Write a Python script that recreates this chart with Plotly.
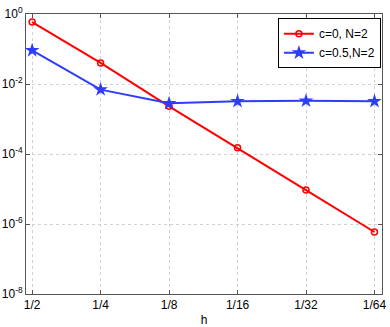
import plotly.graph_objects as go

h_labels = ["1/2", "1/4", "1/8", "1/16", "1/32", "1/64"]
err_c0 = [0.59, 0.040, 0.0023, 1.5e-4, 9.3e-6, 5.9e-7]
err_c05 = [0.091, 0.0069, 0.0028, 0.0032, 0.0033, 0.0032]
y_tickvals = [1, 1e-2, 1e-4, 1e-6, 1e-8]
y_ticktext = ["10<sup>0</sup>", "10<sup>-2</sup>", "10<sup>-4</sup>", "10<sup>-6</sup>", "10<sup>-8</sup>"]

x = list(range(len(h_labels)))
FONT = "Liberation Sans, Arial, Helvetica"

fig = go.Figure()
fig.add_trace(go.Scatter(x=x, y=err_c0, mode="lines+markers", name="c=0, N=2",
                         line=dict(color="#ff0000", width=2),
                         marker=dict(symbol="circle-open", size=6, color="#ff0000", line=dict(width=1.5))))
fig.add_trace(go.Scatter(x=x, y=err_c05, mode="lines+markers", name="c=0.5,N=2",
                         line=dict(color="#2e3cff", width=2),
                         marker=dict(symbol="star", size=11, color="#2e3cff")))

axis_common = dict(showline=True, linecolor="#555", linewidth=1, mirror="ticks",
                   ticks="inside", ticklen=4, tickcolor="#555", automargin=False,
                   showgrid=True, gridcolor="#d0d0d0", griddash="dot", gridwidth=1,
                   zeroline=False, tickfont=dict(family=FONT, size=12, color="black"))

fig.update_xaxes(tickvals=x, ticktext=h_labels, range=[-0.09, 5.11],
                 title=dict(text="h", font=dict(family=FONT, size=12, color="black")),
                 **axis_common)
fig.update_yaxes(type="log", tickvals=y_tickvals, ticktext=y_ticktext, range=[-8, 0], **axis_common)

fig.update_layout(width=390, height=327, margin=dict(l=26, r=8, t=14, b=33, autoexpand=False),
                  plot_bgcolor="white", paper_bgcolor="white",
                  font=dict(family=FONT, size=12, color="black"),
                  legend=dict(x=0.997, y=0.985, xanchor="right", yanchor="top",
                              bordercolor="black", borderwidth=1, bgcolor="white",
                              font=dict(family=FONT, size=12), tracegroupgap=0, itemwidth=30),
                  showlegend=True)

fig.write_html("out.html", config={"displayModeBar": False},
               post_script="document.body.style.margin='0';document.body.style.overflow='hidden';")
